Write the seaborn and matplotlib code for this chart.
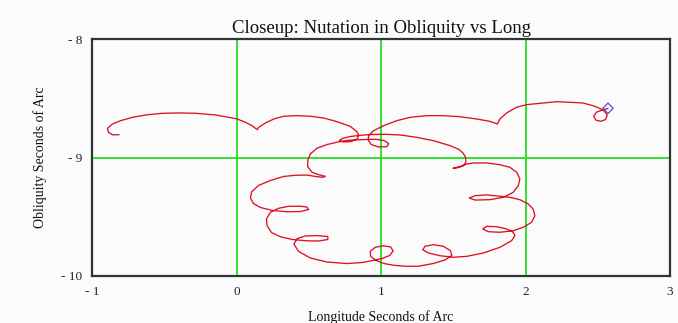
import matplotlib
matplotlib.use("Agg")
import matplotlib.pyplot as plt
import seaborn as sns
import pandas as pd

# Nutation trace, closeup: longitude (arcsec) vs obliquity (arcsec), in path order
longitude = [
    2.571, 2.535, 2.493, 2.472, 2.486, 2.521, 2.555, 2.566, 2.541, 2.500,
    2.467, 2.398, 2.307, 2.215, 2.122, 2.008, 1.938, 1.869, 1.823, 1.805,
    1.754, 1.662, 1.547, 1.432, 1.317, 1.202, 1.110, 1.017, 0.948, 0.914,
    0.912, 0.932, 0.981, 1.041, 1.053, 1.022, 0.967, 0.898, 0.836, 0.767,
    0.704, 0.628, 0.557, 0.511, 0.494, 0.492, 0.523, 0.568, 0.615, 0.594,
    0.546, 0.488, 0.407, 0.327, 0.235, 0.152, 0.104, 0.097, 0.117, 0.166,
    0.249, 0.352, 0.442, 0.499, 0.487, 0.442, 0.359, 0.290, 0.235, 0.207,
    0.212, 0.242, 0.304, 0.387, 0.483, 0.566, 0.632, 0.632, 0.559, 0.477,
    0.421, 0.397, 0.430, 0.511, 0.626, 0.764, 0.870, 0.946, 1.008, 1.060,
    1.084, 1.067, 1.015, 0.960, 0.925, 0.929, 0.967, 1.022, 1.091, 1.174,
    1.257, 1.360, 1.443, 1.490, 1.481, 1.432, 1.363, 1.305, 1.289, 1.328,
    1.409, 1.501, 1.593, 1.708, 1.823, 1.904, 1.927, 1.913, 1.869, 1.800,
    1.731, 1.704, 1.742, 1.823, 1.915, 1.984, 2.042, 2.065, 2.053, 2.019,
    1.961, 1.892, 1.823, 1.731, 1.651, 1.611, 1.651, 1.754, 1.846, 1.915,
    1.950, 1.961, 1.939, 1.892, 1.823, 1.731, 1.639, 1.588, 1.547, 1.499,
    1.526, 1.568, 1.588, 1.585, 1.570, 1.540, 1.478, 1.363, 1.248, 1.133,
    1.029, 0.925, 0.856, 0.787, 0.732, 0.711, 0.739, 0.794, 0.836, 0.845,
    0.832, 0.787, 0.741, 0.672, 0.603, 0.511, 0.419, 0.327, 0.258, 0.200,
    0.154, 0.143, 0.108, 0.062, 0.000, -0.053, -0.145, -0.283, -0.398, -0.513,
    -0.628, -0.720, -0.801, -0.858, -0.893, -0.886, -0.858, -0.813,
]
obliquity = [
    -8.585, -8.599, -8.616, -8.650, -8.684, -8.695, -8.679, -8.641, -8.603, -8.578,
    -8.563, -8.540, -8.534, -8.529, -8.540, -8.554, -8.576, -8.624, -8.675, -8.717,
    -8.695, -8.675, -8.656, -8.647, -8.647, -8.661, -8.689, -8.732, -8.774, -8.816,
    -8.852, -8.890, -8.911, -8.909, -8.882, -8.857, -8.846, -8.848, -8.851, -8.855,
    -8.869, -8.890, -8.922, -8.970, -9.021, -9.076, -9.125, -9.145, -9.159, -9.167,
    -9.160, -9.148, -9.150, -9.160, -9.194, -9.236, -9.291, -9.342, -9.388, -9.422,
    -9.447, -9.458, -9.456, -9.439, -9.418, -9.411, -9.412, -9.429, -9.462, -9.519,
    -9.576, -9.633, -9.669, -9.692, -9.703, -9.705, -9.692, -9.667, -9.659, -9.662,
    -9.684, -9.730, -9.793, -9.848, -9.882, -9.895, -9.886, -9.869, -9.852, -9.827,
    -9.789, -9.755, -9.745, -9.758, -9.793, -9.835, -9.869, -9.895, -9.910, -9.918,
    -9.918, -9.895, -9.865, -9.827, -9.787, -9.749, -9.736, -9.749, -9.778, -9.806,
    -9.829, -9.842, -9.834, -9.806, -9.758, -9.702, -9.658, -9.629, -9.603, -9.584,
    -9.581, -9.603, -9.626, -9.631, -9.618, -9.589, -9.547, -9.491, -9.435, -9.392,
    -9.356, -9.336, -9.327, -9.316, -9.322, -9.342, -9.359, -9.356, -9.336, -9.294,
    -9.238, -9.181, -9.125, -9.083, -9.061, -9.046, -9.046, -9.057, -9.076, -9.091,
    -9.087, -9.072, -9.038, -8.998, -8.966, -8.932, -8.900, -8.858, -8.830, -8.810,
    -8.804, -8.806, -8.813, -8.823, -8.840, -8.857, -8.869, -8.865, -8.844, -8.810,
    -8.781, -8.737, -8.717, -8.689, -8.667, -8.652, -8.647, -8.652, -8.675, -8.709,
    -8.745, -8.765, -8.732, -8.703, -8.673, -8.661, -8.641, -8.627, -8.624, -8.627,
    -8.641, -8.661, -8.689, -8.717, -8.754, -8.787, -8.808, -8.808,
]

# Current position marker
marker_longitude = [2.571]
marker_obliquity = [-8.585]

x_ticks = [-1, 0, 1, 2, 3]
x_tick_labels = ["- 1", "0", "1", "2", "3"]
y_ticks = [-10, -9, -8]
y_tick_labels = ["- 10", "- 9", "- 8"]

title = "Closeup: Nutation in Obliquity vs Long"
x_label = "Longitude Seconds of Arc"
y_label = "Obliquity Seconds of Arc"

path = pd.DataFrame({"lon": longitude, "obl": obliquity})
point = pd.DataFrame({"lon": marker_longitude, "obl": marker_obliquity})

sns.set_theme(style="white")
plt.rcParams["font.family"] = ["Liberation Serif", "DejaVu Serif"]

bg = "#fbfbfb"
fig = plt.figure(figsize=(6.78, 3.23), dpi=100, facecolor=bg)
ax = fig.add_axes([92 / 678, 1 - 276 / 323, 578 / 678, 237 / 323])
ax.set_facecolor(bg)

sns.lineplot(data=path, x="lon", y="obl", sort=False, estimator=None,
             color="#dd1020", linewidth=0.95, ax=ax, zorder=3)
sns.scatterplot(data=point, x="lon", y="obl", marker="D", s=28,
                facecolor="none", edgecolor="#5050d8", linewidth=0.9,
                ax=ax, zorder=4)

ax.set_xlim(x_ticks[0], x_ticks[-1])
ax.set_ylim(y_ticks[0], y_ticks[-1])
ax.set_xticks(x_ticks, x_tick_labels)
ax.set_yticks(y_ticks, y_tick_labels)
ax.tick_params(length=0, labelsize=9.5, colors="#222222")
ax.tick_params(axis="x", pad=7)
ax.tick_params(axis="y", pad=7)

ax.grid(True, color="#22dd22", linewidth=1.3)
ax.set_axisbelow(True)
for s in ax.spines.values():
    s.set_color("#333333")
    s.set_linewidth(1.6)
    s.set_zorder(5)

ax.set_title(title, fontsize=13.5, color="#111111", pad=4)
ax.set_xlabel(x_label, fontsize=10, color="#111111", labelpad=9)
ax.set_ylabel(y_label, fontsize=10, color="#111111", labelpad=10)

fig.savefig("out.png", dpi=100, facecolor=bg)
